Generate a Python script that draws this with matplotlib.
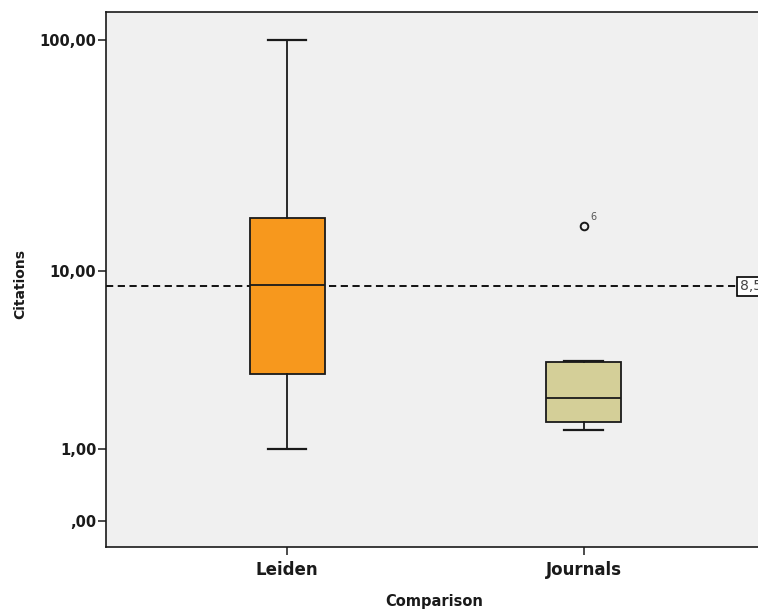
import numpy as np
import matplotlib
matplotlib.use('Agg')
import matplotlib.pyplot as plt
from matplotlib.ticker import FixedLocator, NullLocator

# data
groups = ['Leiden', 'Journals']
whisker_low = [1.0, 1.39]
q1 = [3.1, 1.59]
medians = [8.6, 2.25]
q3 = [17.3, 3.6]
whisker_high = [100.0, 3.65]
outliers = [[], [16.0]]
outlier_ids = [[], ['6']]
ref_value = 8.5
ref_label = '8,5'
tick_values = [0, 1, 10, 100]
tick_labels = [',00', '1,00', '10,00', '100,00']
box_colors = ['#F7981D', '#D4CF98']


def fwd(v):
    return np.log10(np.asarray(v, dtype=float) + 1.0)


def inv(v):
    return 10.0 ** np.asarray(v, dtype=float) - 1.0


fig = plt.figure(figsize=(7.58, 6.12), dpi=100)
fig.patch.set_facecolor('white')
ax = fig.add_axes([106 / 758, 65 / 612, 700 / 758, 535 / 612])
ax.set_facecolor('#F0F0F0')

stats = []
for i in range(len(groups)):
    stats.append({
        'whislo': whisker_low[i], 'q1': q1[i], 'med': medians[i],
        'q3': q3[i], 'whishi': whisker_high[i], 'fliers': outliers[i],
        'label': groups[i],
    })

positions = np.arange(1, len(groups) + 1)
bp = ax.bxp(stats, positions=positions, widths=0.253, capwidths=0.13,
            patch_artist=True, showfliers=True,
            boxprops=dict(edgecolor='#1a1a1a', linewidth=1.3),
            medianprops=dict(color='#1a1a1a', linewidth=1.3),
            whiskerprops=dict(color='#1a1a1a', linewidth=1.3),
            capprops=dict(color='#1a1a1a', linewidth=1.6),
            flierprops=dict(marker='o', markersize=5.5, markerfacecolor='none',
                            markeredgecolor='#1a1a1a', markeredgewidth=1.4))
for patch, c in zip(bp['boxes'], box_colors):
    patch.set_facecolor(c)

# outlier case numbers
for i in range(len(groups)):
    for v, lab in zip(outliers[i], outlier_ids[i]):
        ax.annotate(lab, (positions[i], v), xytext=(5, 4), textcoords='offset points',
                    fontsize=7, color='#555555')

ax.set_yscale('function', functions=(fwd, inv))
ax.set_ylim(-0.221, 131)
ax.set_xlim(0.389, 2.75)
ax.yaxis.set_major_locator(FixedLocator(tick_values))
ax.yaxis.set_minor_locator(NullLocator())
ax.set_yticklabels(tick_labels)
ax.set_xticks(positions)
ax.set_xticklabels(groups)

# reference line
ax.axhline(ref_value, color='black', linestyle=(0, (4, 2.5)), linewidth=1.3, zorder=1)
ax.text(2.526, ref_value, ref_label, ha='left', va='center', fontsize=10, color='#444444',
        bbox=dict(boxstyle='square,pad=0.2', facecolor='white', edgecolor='black', linewidth=1.2))

for s in ax.spines.values():
    s.set_linewidth(1.2)
    s.set_color('#1a1a1a')

ax.tick_params(axis='y', direction='out', length=6, width=1.1, labelsize=10.5, pad=1,
               colors='#1a1a1a')
ax.tick_params(axis='x', direction='out', length=6, width=1.1, labelsize=12, pad=4,
               colors='#1a1a1a')
for lab in ax.get_yticklabels() + ax.get_xticklabels():
    lab.set_fontweight('bold')

ax.set_xlabel('Comparison', fontsize=10.5, fontweight='bold', color='#1a1a1a')
ax.set_ylabel('Citations', fontsize=10, fontweight='bold', color='#1a1a1a')
ax.xaxis.set_label_coords((434 - 106) / 700, -(594 - 547) / 535)
ax.yaxis.set_label_coords(-(106 - 27) / 700, (547 - 284) / 535)

fig.savefig('out.png', dpi=100)
